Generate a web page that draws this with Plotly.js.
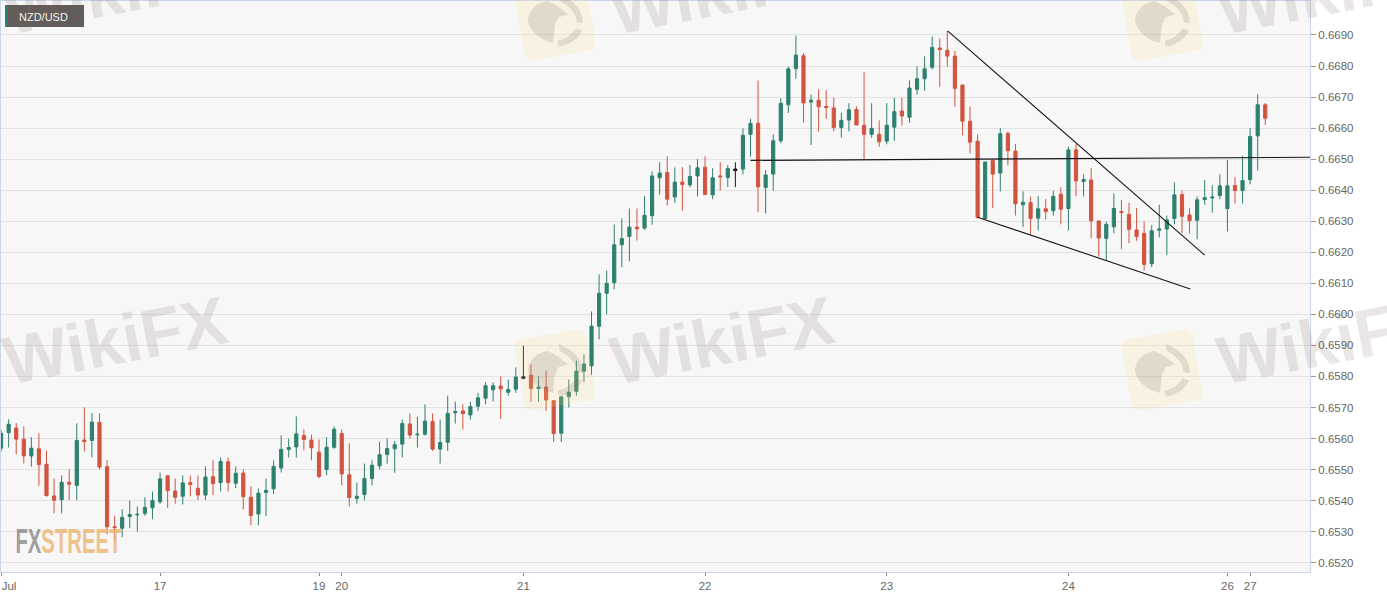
<!DOCTYPE html>
<html>
<head>
<meta charset="utf-8">
<script src="https://cdn.plot.ly/plotly-3.0.1.min.js"></script>
<style>html,body{margin:0;padding:0;background:#fff;overflow:hidden}#chart{width:1387px;height:598px}</style>
</head>
<body>
<div id="chart"></div>
<script>
const symbol = "NZD/USD";
const opens = [.65569,.65619,.65634,.65598,.65544,.65567,.65517,.65415,.65403,.65459,.65449,.65595,.65594,.65652,.65509,.65316,.65311,.65349,.65354,.65359,.65377,.65396,.65480,.65431,.65414,.65458,.65440,.65418,.65477,.65458,.65525,.65456,.65489,.65411,.65357,.65426,.65438,.65505,.65565,.65573,.65610,.65595,.65556,.65500,.65572,.65616,.65483,.65407,.65420,.65471,
.65512,.65549,.65567,.65582,.65647,.65612,.65614,.65655,.65566,.65588,.65683,.65689,.65676,.65704,.65730,.65757,.65769,.65749,.65759,.65794,.65804,.65761,.65766,.65722,.65617,.65735,.65752,.65817,.65834,.65962,
.66068,.66102,.66224,.66251,.66281,.66278,.66318,.66440,.66457,.66378,.66426,.66417,.66446,.66474,.66385,.66446,.66441,.66463,.66468,.66580,
.66616,.66409,.66452,.66559,.66675,.66792,.66833,.66684,.66690,.66670,.66665,.66602,.66626,.66660,.66609,.66580,.66580,.66558,.66603,.66655,
.66635,.66725,.66759,.66796,.66858,.66851,.66832,.66739,.66622,.66558,.66309,.66496,.66455,.66583,.66526,.66353,.66360,.66310,.66340,.66334,
.66387,.66341,.66530,.66428,.66433,.66301,.66245,.66282,.66331,.66322,.66272,.66261,.66163,.66271,.66275,.66309,.66386,.66320,.66303,.66370,
.66375,.66383,.66341,.66415,.66399,.66434,.66575,.66675];
const highs = [.65628,.65662,.65649,.65639,.65604,.65617,.65561,.65471,.65481,.65501,.65649,.65700,.65682,.65682,.65531,.65351,.65372,.65400,.65381,.65411,.65429,.65490,.65480,.65471,.65481,.65481,.65481,.65510,.65530,.65539,.65539,.65510,.65501,.65447,.65439,.65471,.65530,.65610,.65600,.65671,.65629,.65613,.65597,.65604,.65639,.65629,.65585,.65458,.65519,.65530,
.65590,.65600,.65592,.65661,.65681,.65670,.65710,.65681,.65661,.65738,.65719,.65710,.65719,.65747,.65781,.65781,.65800,.65790,.65829,.65899,.65839,.65800,.65819,.65722,.65737,.65790,.65851,.65871,.66009,.66129,
.66141,.66289,.66309,.66341,.66341,.66381,.66461,.66490,.66509,.66473,.66474,.66481,.66500,.66509,.66471,.66490,.66481,.66490,.66599,.66630,
.66753,.66465,.66580,.66696,.66798,.66898,.66841,.66708,.66725,.66722,.66698,.66649,.66680,.66670,.66780,.66680,.66625,.66680,.66698,.66698,
.66754,.66799,.66831,.66895,.66889,.66913,.66849,.66739,.66669,.66580,.66491,.66496,.66600,.66589,.66549,.66396,.66380,.66381,.66371,.66398,
.66409,.66541,.66549,.66451,.66471,.66301,.66299,.66390,.66369,.66360,.66342,.66299,.66288,.66353,.66318,.66425,.66399,.66342,.66380,.66433,
.66416,.66451,.66498,.66442,.66511,.66600,.66709,.66681];
const lows = [.65558,.65571,.65549,.65520,.65510,.65448,.65413,.65359,.65359,.65401,.65401,.65558,.65539,.65501,.65291,.65269,.65282,.65311,.65300,.65351,.65340,.65390,.65377,.65390,.65388,.65414,.65402,.65402,.65418,.65429,.65429,.65440,.65372,.65321,.65321,.65350,.65421,.65491,.65539,.65539,.65562,.65530,.65472,.65482,.65567,.65449,.65381,.65390,.65401,.65449,
.65501,.65519,.65490,.65539,.65599,.65571,.65609,.65560,.65519,.65560,.65648,.65629,.65661,.65689,.65710,.65719,.65663,.65738,.65747,.65791,.65718,.65718,.65689,.65589,.65589,.65700,.65738,.65781,.65804,.65919,
.66000,.66081,.66152,.66171,.66238,.66272,.66289,.66386,.66351,.66360,.66334,.66409,.66380,.66386,.66371,.66399,.66410,.66410,.66451,.66508,
.66330,.66325,.66398,.66551,.66649,.66759,.66617,.66546,.66589,.66630,.66590,.66569,.66589,.66610,.66499,.66569,.66540,.66548,.66559,.66608,
.66617,.66708,.66720,.66789,.66733,.66798,.66669,.66577,.66518,.66309,.66306,.66342,.66396,.66480,.66318,.66281,.66258,.66270,.66305,.66318,
.66290,.66270,.66381,.66380,.66245,.66186,.66175,.66261,.66210,.66229,.66237,.66141,.66152,.66248,.66191,.66290,.66261,.66261,.66242,.66353,
.66328,.66371,.66267,.66357,.66357,.66419,.66463,.66610];
const closes = [.65617,.65646,.65598,.65544,.65569,.65516,.65416,.65401,.65459,.65453,.65594,.65590,.65653,.65508,.65316,.65313,.65346,.65355,.65356,.65378,.65400,.65470,.65432,.65411,.65457,.65452,.65418,.65476,.65455,.65526,.65458,.65488,.65413,.65352,.65424,.65433,.65510,.65565,.65571,.65615,.65597,.65570,.65478,.65572,.65630,.65486,.65410,.65414,.65471,.65514,
.65548,.65568,.65580,.65648,.65611,.65614,.65656,.65566,.65587,.65681,.65687,.65680,.65703,.65731,.65770,.65770,.65760,.65758,.65798,.65799,.65761,.65766,.65724,.65616,.65734,.65749,.65817,.65840,.65962,.66068,
.66100,.66224,.66244,.66281,.66276,.66319,.66446,.66455,.66371,.66426,.66418,.66444,.66472,.66386,.66440,.66443,.66470,.66468,.66577,.66615,
.66411,.66449,.66559,.66680,.66791,.66835,.66681,.66690,.66669,.66666,.66602,.66625,.66659,.66610,.66580,.66599,.66556,.66609,.66653,.66639,
.66729,.66759,.66791,.66860,.66853,.66832,.66728,.66622,.66555,.66312,.66491,.66452,.66582,.66527,.66356,.66361,.66309,.66340,.66331,.66380,
.66339,.66530,.66430,.66434,.66301,.66246,.66290,.66341,.66328,.66274,.66251,.66161,.66269,.66275,.66304,.66385,.66316,.66302,.66369,.66376,
.66378,.66414,.66414,.66399,.66431,.66573,.66675,.66632];
const blackCandles = [69, 97];
const xTickVals = [0, 21, 42, 45, 69, 93, 117, 141, 162, 165];
const xTickText = ["\u00A0\u00A0\u00A0\u00A0\u00A0Jul", "17", "19", "20", "21", "22", "23", "24", "26", "27"];
const priceTicks = [.652,.653,.654,.655,.656,.657,.658,.659,.66,.661,.662,.663,.664,.665,.666,.667,.668,.669];
const resistanceX = [99, 172.9];
const resistanceY = [.66496, .66506];
const upperTrendX = [125.04, 159];
const upperTrendY = [.66913, .66191];
const lowerTrendX = [129, 157.1];
const lowerTrendY = [.66313, .66082];

const GREEN = "#2e806e", RED = "#d1543f", W = 1387, H = 598;
const m = {l: 1, r: 77, t: 1, b: 26};
const px = x => (x - m.l) / (W - m.l - m.r);
const py = y => 1 - (y - m.t) / (H - m.t - m.b);

const idx = opens.map((_, i) => i);
const main = idx.filter(i => !blackCandles.includes(i));
const pick = (arr, ids) => ids.map(i => arr[i]);
function candles(ids, up, down) {
  return {type: "candlestick", x: ids, open: pick(opens, ids), high: pick(highs, ids), low: pick(lows, ids), close: pick(closes, ids),
    increasing: {line: {color: up, width: 1}, fillcolor: up},
    decreasing: {line: {color: down, width: 1}, fillcolor: down},
    whiskerwidth: 0, showlegend: false, hoverinfo: "skip"};
}
function trend(x, y) {
  return {type: "scatter", mode: "lines", x, y, line: {color: "#151515", width: 1.1}, showlegend: false, hoverinfo: "skip"};
}
const traces = [candles(main, GREEN, RED), candles(blackCandles, "#1a1a1a", "#1a1a1a"),
  trend(resistanceX, resistanceY), trend(upperTrendX, upperTrendY), trend(lowerTrendX, lowerTrendY)];

// watermark helpers
const ANG = -10 * Math.PI / 180;
function pathAt(cx, cy, tokens) {
  return tokens.map(t => {
    if (typeof t === "string") return t;
    const X = cx + t[0] * Math.cos(ANG) - t[1] * Math.sin(ANG);
    const Y = cy + t[0] * Math.sin(ANG) + t[1] * Math.cos(ANG);
    return px(X).toFixed(5) + "," + py(Y).toFixed(5);
  }).join(" ");
}
const plate = ["M",[-28,-36],"L",[28,-36],"Q",[36,-36],[36,-28],"L",[36,28],"Q",[36,36],[28,36],"L",[-28,36],"Q",[-36,36],[-36,28],"L",[-36,-28],"Q",[-36,-36],[-28,-36],"Z"];
const head = ["M",[-27,-4],"Q",[-22,-20],[-4,-20],"L",[5,-13],"L",[14,-3],"L",[4,-2],"L",[-1,5],"L",[-6,22],"Q",[-25,15],[-27,-4],"Z"];
const arcR = ["M",[8,-25],"Q",[30,-12],[27,8],"L",[21,6],"Q",[22,-8],[8,-18],"Z"];
const arcB = ["M",[-1,27],"Q",[16,27],[25,15],"L",[19,12],"Q",[10,21],[-1,21],"Z"];
const logoCenters = [[555, 20], [1162, 20], [555, 370], [1162, 370]];
const shapes = [];
logoCenters.forEach(([cx, cy]) => {
  shapes.push({type: "path", xref: "paper", yref: "paper", layer: "above", path: pathAt(cx, cy, plate), fillcolor: "rgba(250,222,130,0.18)", line: {width: 0}});
  [head, arcR, arcB].forEach(p => shapes.push({type: "path", xref: "paper", yref: "paper", layer: "above", path: pathAt(cx, cy, p), fillcolor: "rgba(120,100,100,0.17)", line: {width: 0}}));
});
shapes.push({type: "rect", xref: "paper", yref: "paper", layer: "above", x0: px(5), x1: px(84), y0: py(27), y1: py(5), fillcolor: "#605c5a", line: {width: 0}});
shapes.push({type: "rect", xref: "paper", yref: "paper", layer: "above", x0: px(5), x1: px(7.5), y0: py(27), y1: py(5), fillcolor: GREEN, line: {width: 0}});

const wordCenters = [[115, 340], [722, 340], [1329, 340], [115, -10], [722, -10], [1329, -10]];
const annotations = wordCenters.map(([x, y]) => ({
  xref: "paper", yref: "paper", x: px(x), y: py(y), xanchor: "center", yanchor: "middle", showarrow: false, textangle: -11,
  text: "WikiFX", font: {family: "Liberation Sans", size: 68, weight: 700, color: "rgba(120,95,85,0.15)"}
}));
annotations.push({xref: "paper", yref: "paper", x: px(17), y: py(17), xanchor: "left", yanchor: "middle", showarrow: false,
  text: symbol, font: {family: "Liberation Sans", size: 11, color: "#f2f2f2"}});
annotations.push({xref: "paper", yref: "paper", x: px(68), y: py(540), xanchor: "center", yanchor: "middle", showarrow: false,
  text: '<span style="color:rgba(130,130,130,0.95)">FX</span>STREET', font: {family: "Liberation Sans", size: 35, weight: 700, color: "rgba(238,178,110,0.8)"}});

const axisLine = "#ccd6eb", labelFont = {family: "Liberation Sans", size: 11.5, color: "#666666"};
const layout = {
  width: W, height: H, margin: {l: m.l, r: m.r, t: m.t, b: m.b, pad: 0},
  paper_bgcolor: "#ffffff", plot_bgcolor: "#f7f7f7", showlegend: false, hovermode: false, boxgap: 0.4,
  xaxis: {type: "linear", range: [-0.01, 172.91], tickmode: "array", tickvals: xTickVals, ticktext: xTickText, ticklabeloverflow: "allow", showgrid: false, zeroline: false,
    showline: true, mirror: true, linecolor: axisLine, linewidth: 1, ticks: "outside", ticklen: 3, tickcolor: "#888", tickwidth: 1, tickfont: labelFont,
    rangeslider: {visible: false}, fixedrange: true, automargin: false},
  yaxis: {side: "right", range: [.6517, .670095], tickmode: "array", tickvals: priceTicks, tickformat: ".4f", showgrid: true, gridcolor: "#e3e3e3", gridwidth: 1, zeroline: false,
    showline: true, mirror: true, linecolor: axisLine, linewidth: 1, ticks: "outside", ticklen: 5, tickcolor: "#999", tickwidth: 1, tickfont: labelFont, fixedrange: true, automargin: false},
  shapes, annotations
};
Plotly.newPlot("chart", traces, layout, {displayModeBar: false, staticPlot: true}).then(() => {
  document.querySelectorAll(".annotation-text").forEach(t => {
    if (t.textContent === "FXSTREET") { t.setAttribute("textLength", 106); t.setAttribute("lengthAdjust", "spacingAndGlyphs"); }
  });
});
</script>
</body>
</html>
